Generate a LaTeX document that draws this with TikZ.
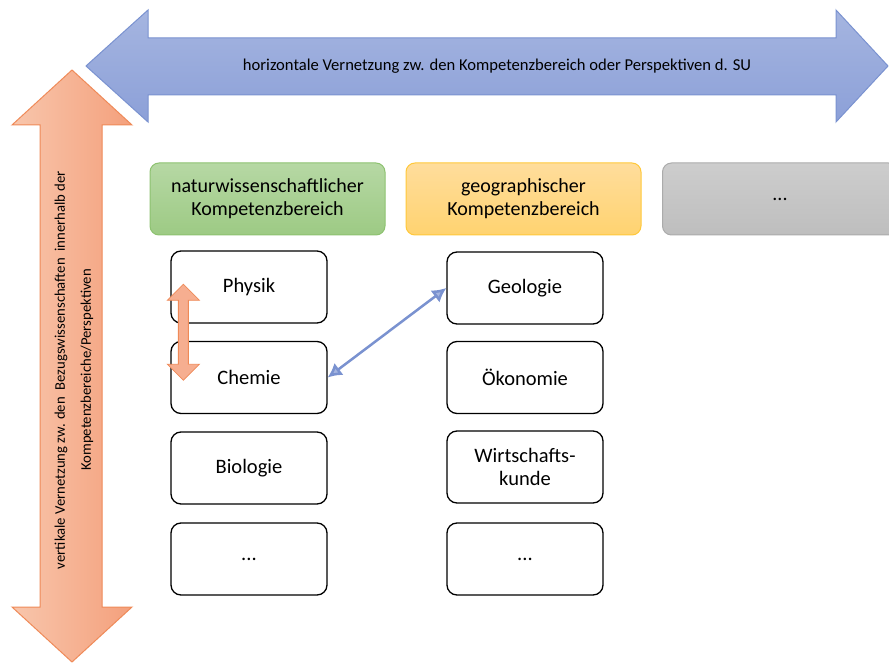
\documentclass[tikz,border=0pt]{standalone}
\usepackage{fontspec}
\setmainfont{Carlito}
\usepackage{tikz}
\usetikzlibrary{arrows.meta,positioning,calc}
\definecolor{vz-blue1}{HTML}{A5B5E0}
\definecolor{vz-blue2}{HTML}{8CA0D8}
\definecolor{vz-blueline}{HTML}{7A92D0}
\definecolor{vz-orange1}{HTML}{F8C6AC}
\definecolor{vz-orange2}{HTML}{F4A07C}
\definecolor{vz-orangeline}{HTML}{EF8A58}
\definecolor{vz-green1}{HTML}{B6D8A4}
\definecolor{vz-green2}{HTML}{9DCA84}
\definecolor{vz-greenline}{HTML}{8DC270}
\definecolor{vz-yellow1}{HTML}{FFDD9C}
\definecolor{vz-yellow2}{HTML}{FFD370}
\definecolor{vz-yellowline}{HTML}{FFC83A}
\definecolor{vz-grey1}{HTML}{CDCDCD}
\definecolor{vz-grey2}{HTML}{BEBEBE}
\definecolor{vz-greyline}{HTML}{ABABAB}

\begin{document}
\begin{tikzpicture}[x=1pt,y=-1pt,
    fach/.style={draw=black,line width=1.3pt,rounded corners=10pt,minimum width=156pt,minimum height=72pt,align=center,font=\fontsize{20.5}{23}\selectfont},
    bereich/.style={line width=1pt,rounded corners=9pt,minimum width=235pt,minimum height=72pt,align=center,font=\fontsize{20}{23}\selectfont}]
      \useasboundingbox (0,0) rectangle (889,663);
      \clip (0,0) rectangle (889,663);
      % grosse Pfeile
      \shadedraw[top color=vz-blue1,bottom color=vz-blue2,draw=vz-blueline,line width=1pt]
        (86,66) -- (148,10) -- (148,38) -- (836,38) -- (836,10) -- (888,66) -- (836,122) -- (836,95) -- (148,95) -- (148,122) -- cycle;
      \node[font=\fontsize{16.6}{19}\selectfont] (hlabel) at (497,66) {horizontale Vernetzung zw. den Kompetenzbereich oder Perspektiven d. SU};
      \shadedraw[left color=vz-orange1,right color=vz-orange2,draw=vz-orangeline,line width=1pt]
        (72,70) -- (132,125) -- (102,125) -- (102,607) -- (132,607) -- (72,662) -- (12,607) -- (40,607) -- (40,125) -- (12,125) -- cycle;
      \node[rotate=90,align=center,font=\fontsize{14.7}{26}\selectfont] (vlabel) at (74,370) {vertikale Vernetzung zw. den \ Bezugswissenschaften \ innerhalb der\\Kompetenzbereiche/Perspektiven};
      % Kompetenzbereiche
      \node[bereich,top color=vz-green1,bottom color=vz-green2,draw=vz-greenline] (nawi) at (267.5,199) {naturwissenschaftlicher\\Kompetenzbereich};
      \node[bereich,top color=vz-yellow1,bottom color=vz-yellow2,draw=vz-yellowline] (geo) at (523.5,199) {geographischer\\Kompetenzbereich};
      \node[bereich,top color=vz-grey1,bottom color=vz-grey2,draw=vz-greyline] (rest) at (780,199) {...};
      % Faecher
      \node[fach] (physik) at (249,287) {Physik};
      \node[fach] (chemie) at (249,377.5) {Chemie};
      \node[fach] (biologie) at (249,468) {Biologie};
      \node[fach] (mehrA) at (249,559) {...};
      \node[fach] (geologie) at (525,288) {Geologie};
      \node[fach] (oekonomie) at (525,377.5) {Ökonomie};
      \node[fach] (wiku) at (525,467) {Wirtschafts-\\kunde};
      \node[fach] (mehrB) at (525,559) {...};
      % kleine Pfeile
      \coordinate (vmid) at ($(physik.west)!.5!(chemie.west)+(13,0)$);
      \draw[fill=vz-orange2!85,draw=vz-orangeline,line width=0.8pt]
        (vmid) ++(0,-48) -- ++(16,16) -- ++(-11,0) -- ++(0,64) -- ++(11,0) -- ++(-16,16) -- ++(-16,-16) -- ++(11,0) -- ++(0,-64) -- ++(-11,0) -- cycle;
      \draw[vz-blueline,line width=2.5pt,{Latex[length=14pt,width=15pt,fill=vz-blue1]}-{Latex[length=14pt,width=15pt,fill=vz-blue1]}]
        (chemie.east) -- (geologie.west);
    \end{tikzpicture}
\end{document}
